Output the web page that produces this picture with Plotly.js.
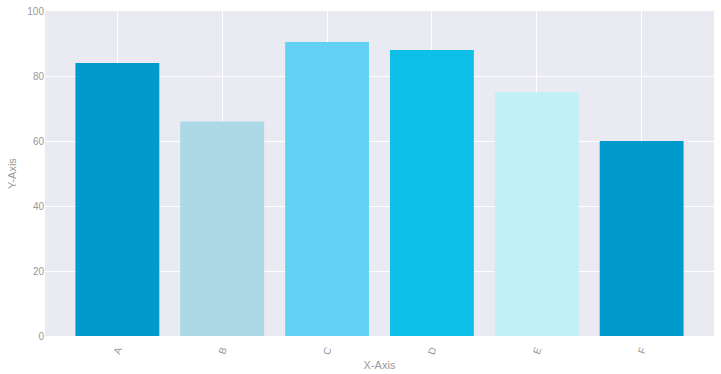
<!DOCTYPE html>
<html>
<head>
<meta charset="utf-8">
<script src="https://cdn.plot.ly/plotly-3.0.1.min.js"></script>
<style>html,body{margin:0;padding:0;background:#fff;}#chart{width:721px;height:374px;}</style>
</head>
<body>
<div id="chart"></div>
<script>
const categories = ["A", "B", "C", "D", "E", "F"];
const values = [84, 66, 90.5, 88, 75, 60];
const barColors = ["#009ACD", "#ADD8E6", "#63D1F4", "#0EBFE9", "#C1F0F6", "#009ACD"];
const yTicks = [0, 20, 40, 60, 80, 100];

const trace = {
  type: "bar",
  x: categories,
  y: values,
  marker: {color: barColors, line: {width: 0}},
  width: 0.8,
  hoverinfo: "x+y"
};

const fontFam = "Liberation Sans, Arial, sans-serif";
const layout = {
  width: 721,
  height: 374,
  margin: {l: 45, r: 7, t: 11, b: 38, pad: 0},
  paper_bgcolor: "#ffffff",
  plot_bgcolor: "#EAEAF2",
  showlegend: false,
  font: {family: fontFam, color: "#999999", size: 10},
  xaxis: {
    type: "category",
    range: [-0.69, 5.69],
    showgrid: true,
    gridcolor: "#ffffff",
    gridwidth: 1,
    zeroline: false,
    showline: false,
    ticks: "outside",
    ticklen: 3,
    tickcolor: "rgba(0,0,0,0)",
    tickangle: -70,
    tickfont: {family: fontFam, size: 10, color: "#999999"},
    title: {text: "X-Axis", font: {family: fontFam, size: 11, color: "#999999"}, standoff: 6}
  },
  yaxis: {
    range: [0, 100],
    tickvals: yTicks,
    ticktext: yTicks.map(String),
    showgrid: true,
    gridcolor: "#ffffff",
    gridwidth: 1,
    zeroline: false,
    showline: false,
    ticks: "",
    ticklen: 0,
    tickfont: {family: fontFam, size: 10, color: "#999999"},
    title: {text: "Y-Axis", font: {family: fontFam, size: 11, color: "#999999"}, standoff: 8}
  }
};

Plotly.newPlot("chart", [trace], layout, {displayModeBar: false, staticPlot: true});
</script>
</body>
</html>
